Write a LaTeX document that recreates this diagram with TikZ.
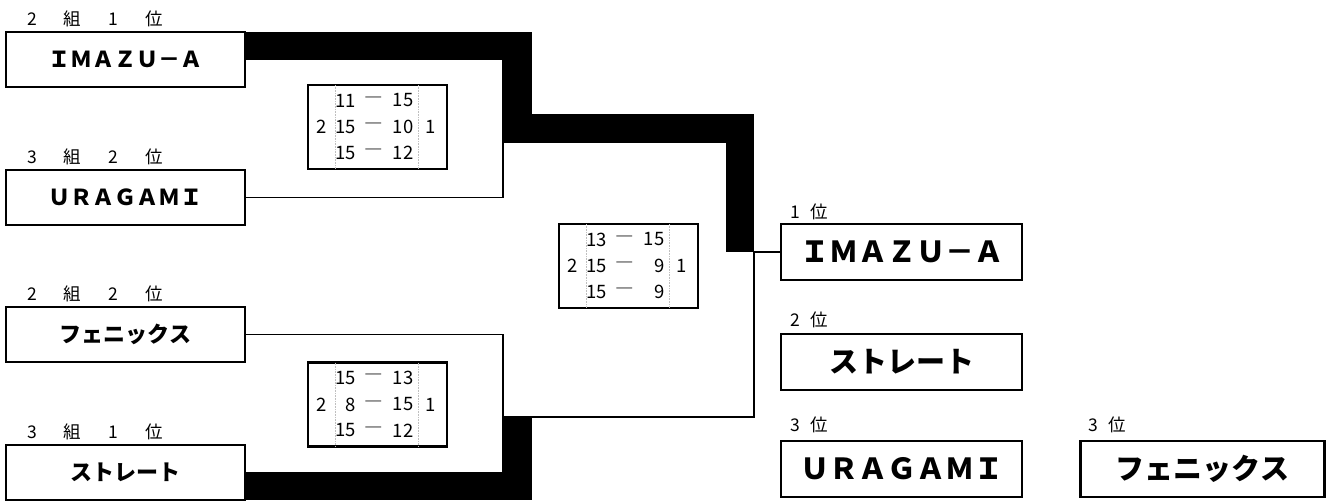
\documentclass[tikz,border=0pt]{standalone}
\usepackage{fontspec}
\newfontfamily\jp{Noto Sans CJK JP}
\newcommand\mkscore[7]{%
  \node[sc] (#1l) at ([xshift=13.5pt]#1.west) {2};
  \node[sc] (#1r) at ([xshift=122.5pt]#1.west) {1};
  \draw[sepline] ([xshift=27.5pt]#1.north west) -- ([xshift=27.5pt]#1.south west);
  \draw[sepline] ([xshift=110.5pt]#1.north west) -- ([xshift=110.5pt]#1.south west);
  \node[sc,anchor=east] (#1a) at ([xshift=48pt,yshift=26.5pt]#1.west) {#2};
  \node[sc] (#1ad) at ([xshift=66pt,yshift=26.5pt]#1.west) {―};
  \node[sc,anchor=east] (#1b) at ([xshift=105.5pt,yshift=26.5pt]#1.west) {#3};
  \node[sc,anchor=east] (#1c) at ([xshift=48pt]#1.west) {#4};
  \node[sc] (#1cd) at ([xshift=66pt]#1.west) {―};
  \node[sc,anchor=east] (#1d) at ([xshift=105.5pt]#1.west) {#5};
  \node[sc,anchor=east] (#1e) at ([xshift=48pt,yshift=-26pt]#1.west) {#6};
  \node[sc] (#1ed) at ([xshift=66pt,yshift=-26pt]#1.west) {―};
  \node[sc,anchor=east] (#1f) at ([xshift=105.5pt,yshift=-26pt]#1.west) {#7};
}
\begin{document}
\begin{tikzpicture}[x=1pt,y=-1pt,
  team/.style={draw, line width=2.4pt, outer sep=0pt, minimum width=239pt, minimum height=55pt, inner sep=0pt, font=\jp\bfseries\fontsize{22}{22}\selectfont},
  bigteam/.style={team, minimum width=241pt, minimum height=56pt, font=\jp\bfseries\fontsize{29}{29}\selectfont},
  lbl/.style={inner sep=0pt, anchor=west, font=\jp\fontsize{17.5}{17.5}\selectfont},
  scorebox/.style={draw, line width=2.2pt, outer sep=0pt, minimum width=139pt, minimum height=84pt, inner sep=0pt},
  sc/.style={inner sep=0pt, font=\jp\fontsize{18.5}{18.5}\selectfont},
  thinline/.style={line width=1.8pt},
  win/.style={line width=28.5pt, line join=miter},
  sepline/.style={gray!50, densely dotted, line width=0.6pt}]
\useasboundingbox (0,0) rectangle (1334,501);

% left teams
\node[team] (t1) at (125.5,59.5) {ＩＭＡＺＵ－Ａ};
\node[team] (t2) at (125.5,197.5) {ＵＲＡＧＡＭＩ};
\node[team] (t3) at (125.5,334.5) {フェニックス};
\node[team] (t4) at (125.5,472.5) {ストレート};
\node[lbl] (l1) at (27,19) {2\hspace{27pt}組\hspace{27pt}1\hspace{27pt}位};
\node[lbl] (l2) at (27,157) {3\hspace{27pt}組\hspace{27pt}2\hspace{27pt}位};
\node[lbl] (l3) at (27,294) {2\hspace{27pt}組\hspace{27pt}2\hspace{27pt}位};
\node[lbl] (l4) at (27,432) {3\hspace{27pt}組\hspace{27pt}1\hspace{27pt}位};

% right results
\node[bigteam] (r1) at (901.5,252) {ＩＭＡＺＵ－Ａ};
\node[bigteam] (r2) at (901.5,362) {ストレート};
\node[bigteam] (r3) at (901.5,469) {ＵＲＡＧＡＭＩ};
\node[bigteam, minimum width=244pt] (r4) at (1202.5,469) {フェニックス};
\node[lbl] (p1) at (790,212) {1\hspace{11pt}位};
\node[lbl] (p2) at (790,320) {2\hspace{11pt}位};
\node[lbl] (p3) at (790,425) {3\hspace{11pt}位};
\node[lbl] (p4) at (1088,425) {3\hspace{11pt}位};

% brackets
\coordinate (j1) at (503,59.5);
\coordinate (j2) at (503,334.5);
\coordinate (j3) at (503,417);
\coordinate (j4) at (754,417);
\coordinate (w1) at (517.5,128.5);
\coordinate (w2) at (740,128.5);
\coordinate (w3) at (517.5,417);
\draw[thinline] (t1.east) -- (j1) |- (t2.east);
\draw[thinline] (t3.east) -- (j2) |- (t4.east);
\draw[thinline] (j3) -- (j4) |- (r1.west);
\draw[win] ([yshift=13.5pt]t1.east) -| (w1) -- (w2) -- (w2 |- r1.west);
\draw[win] ([yshift=-13.5pt]t4.east) -| (w3);

% score boxes
\node[scorebox] (s1) at (377.5,127) {};
\node[scorebox] (s2) at (628.5,266) {};
\node[scorebox] (s3) at (377.5,404.5) {};
\mkscore{s1}{11}{15}{15}{10}{15}{12}
\mkscore{s2}{13}{15}{15}{9}{15}{9}
\mkscore{s3}{15}{13}{8}{15}{15}{12}
\end{tikzpicture}
\end{document}
